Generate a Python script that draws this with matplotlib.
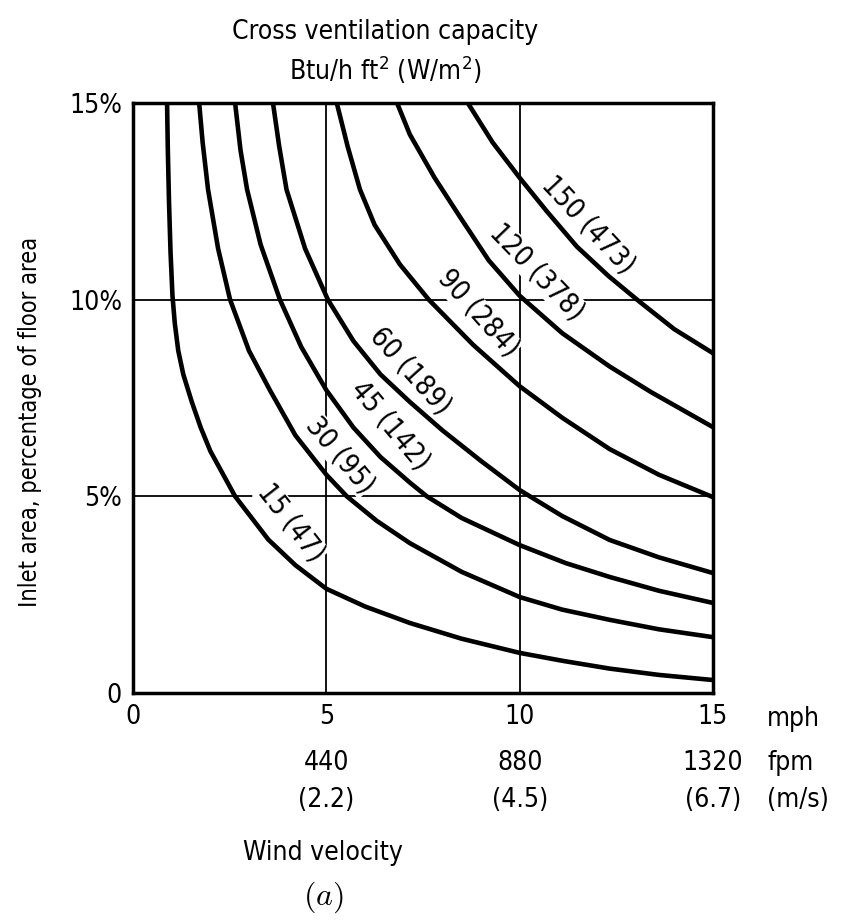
import matplotlib.pyplot as plt

plt.rcParams['font.family'] = ['DejaVu Sans']
plt.rcParams['font.stretch'] = 'condensed'

# curves: wind speed (mph) -> inlet area (% of floor area)
c15_x = [0.88, 0.9, 0.93, 0.97, 1.02, 1.08, 1.17, 1.3, 1.52, 1.75, 2.0, 2.64, 3.5, 4.2,
         5.0, 6.0, 7.16, 8.5, 10.0, 11.1, 12.33, 13.6, 15.0]
c15_y = [15.0, 13.8, 12.5, 11.2, 10.1, 9.4, 8.7, 8.1, 7.4, 6.75, 6.15, 5.0, 3.9, 3.25,
         2.65, 2.2, 1.78, 1.38, 1.02, 0.82, 0.62, 0.46, 0.33]
c30_x = [1.71, 1.8, 1.94, 2.2, 2.51, 3.0, 3.54, 4.2, 5.0, 5.53, 6.3, 7.16, 8.5, 10.0,
         11.1, 12.33, 13.6, 15.0]
c30_y = [15.0, 14.0, 12.8, 11.3, 10.0, 8.7, 7.7, 6.55, 5.55, 5.0, 4.38, 3.81, 3.08, 2.44,
         2.12, 1.86, 1.62, 1.42]
c45_x = [2.64, 2.78, 2.95, 3.3, 3.8, 4.35, 5.0, 5.7, 6.4, 7.16, 7.6, 8.5, 10.0, 11.2,
         12.33, 13.6, 15.0]
c45_y = [15.0, 13.8, 12.8, 11.4, 10.0, 8.8, 7.7, 6.75, 6.0, 5.35, 5.0, 4.45, 3.76, 3.3,
         2.95, 2.6, 2.29]
c60_x = [3.62, 3.78, 3.97, 4.45, 5.04, 5.7, 6.4, 7.16, 8.0, 9.0, 10.0, 11.1, 12.33, 13.6, 15.0]
c60_y = [15.0, 13.9, 12.8, 11.3, 10.0, 8.95, 8.1, 7.4, 6.68, 5.9, 5.16, 4.5, 3.89, 3.45, 3.05]
c90_x = [5.27, 5.55, 5.87, 6.25, 6.9, 7.65, 8.8, 10.0, 11.1, 12.33, 13.6, 15.0]
c90_y = [15.0, 13.9, 12.8, 11.9, 10.9, 10.0, 8.85, 7.8, 7.0, 6.2, 5.55, 4.98]
c120_x = [6.83, 7.16, 7.8, 8.46, 9.2, 10.0, 11.1, 12.33, 13.4, 15.0]
c120_y = [15.0, 14.2, 13.1, 12.1, 11.0, 10.1, 9.15, 8.3, 7.65, 6.76]
c150_x = [8.66, 9.3, 10.0, 10.7, 11.48, 12.3, 13.1, 14.0, 15.0]
c150_y = [15.0, 14.0, 13.1, 12.25, 11.35, 10.6, 9.95, 9.25, 8.64]

curve_labels = ['15 (47)', '30 (95)', '45 (142)', '60 (189)', '90 (284)', '120 (378)', '150 (473)']
label_x = [4.09, 5.35, 6.65, 7.16, 8.92, 10.45, 11.77]
label_y = [4.32, 6.05, 6.81, 8.19, 9.66, 10.7, 11.9]
label_rot = [-52, -50, -50, -48, -48, -46, -47]

mph_ticks = [0, 5, 10, 15]
fpm_ticks = ['', '440', '880', '1320']
ms_ticks = ['', '(2.2)', '(4.5)', '(6.7)']
y_ticks = [0, 5, 10, 15]
y_ticklabels = ['0', '5%', '10%', '15%']

fig = plt.figure(figsize=(8.6, 9.24), dpi=100)
ax = fig.add_axes([0.1547, 0.25, 0.829 - 0.1547, 0.8885 - 0.25])

curves = [(c15_x, c15_y), (c30_x, c30_y), (c45_x, c45_y), (c60_x, c60_y),
          (c90_x, c90_y), (c120_x, c120_y), (c150_x, c150_y)]
for cx, cy in curves:
    ax.plot(cx, cy, color='black', lw=3.3, solid_joinstyle='round', zorder=4)

for txt, lx, ly, r in zip(curve_labels, label_x, label_y, label_rot):
    ax.text(lx, ly, txt, rotation=r, rotation_mode='anchor', ha='center', va='center',
            fontsize=20, zorder=3,
            bbox=dict(facecolor='white', edgecolor='none', pad=0.3))

for v in [5, 10]:
    ax.axvline(v, color='black', lw=1.3, zorder=1)
    ax.axhline(v, color='black', lw=1.3, zorder=1)

ax.set_xlim(0, 15)
ax.set_ylim(0, 15)
for s in ax.spines.values():
    s.set_linewidth(2.5)
ax.set_xticks(mph_ticks)
ax.set_xticklabels([str(t) for t in mph_ticks], fontsize=19)
ax.set_yticks(y_ticks)
ax.set_yticklabels(y_ticklabels, fontsize=19)
ax.tick_params(length=0, pad=8)

trans = ax.get_xaxis_transform()
for t, f, m in zip(mph_ticks, fpm_ticks, ms_ticks):
    ax.text(t, -0.119, f, transform=trans, ha='center', va='center', fontsize=19)
    ax.text(t, -0.181, m, transform=trans, ha='center', va='center', fontsize=19)
for row, unit in zip([-0.044, -0.119, -0.181], ['mph', 'fpm', '(m/s)']):
    ax.text(16.4, row, unit, transform=trans, ha='left', va='center', fontsize=19)

fig.text(323 / 860, 1 - 853 / 924, 'Wind velocity', ha='center', va='center', fontsize=19)
fig.text(323 / 860, 1 - 897 / 924, '$(a)$', ha='center', va='center', fontsize=23,
         math_fontfamily='cm')
fig.text(385 / 860, 1 - 32 / 924, 'Cross ventilation capacity', ha='center', va='center', fontsize=19)
fig.text(385 / 860, 1 - 70 / 924, 'Btu/h ft$^2$ (W/m$^2$)', ha='center', va='center', fontsize=19)
fig.text(30 / 860, 1 - 422 / 924, 'Inlet area, percentage of floor area', rotation=90,
         ha='center', va='center', fontsize=17)

fig.savefig('out.png', dpi=100)
